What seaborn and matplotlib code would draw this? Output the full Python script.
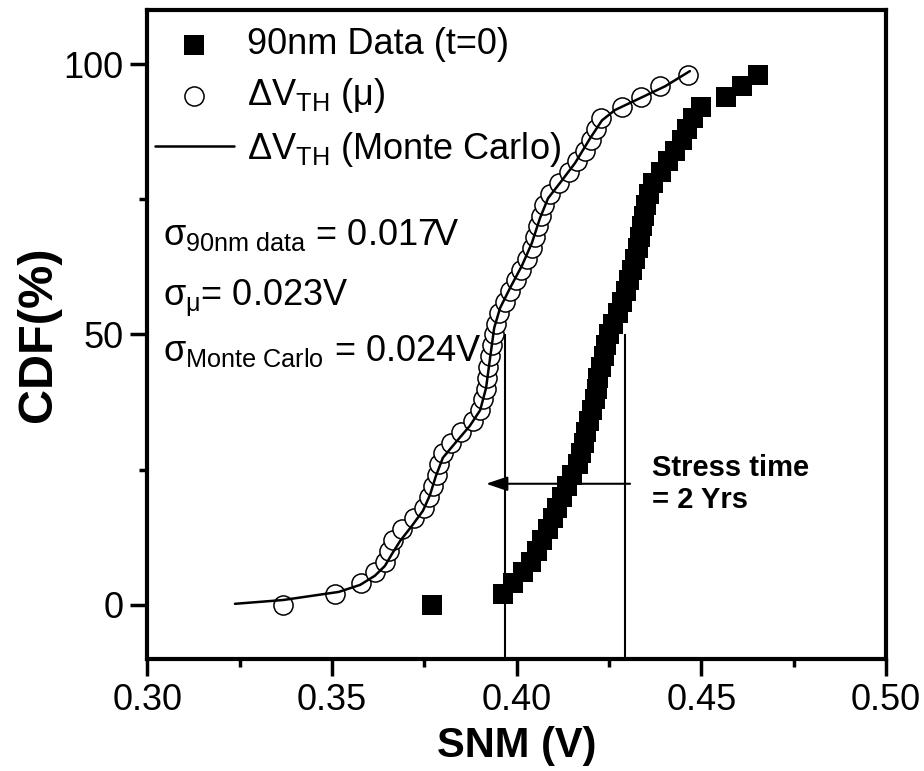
import matplotlib
matplotlib.use("Agg")
import matplotlib.pyplot as plt
from matplotlib.ticker import MultipleLocator
import seaborn as sns
import pandas as pd

# CDF levels (%) shared by both measured / modelled point sets
cdf_pts = list(range(0, 100, 2))

# 90nm data at t=0, SNM (V)
snm_90nm = [0.3771, 0.3963, 0.3990, 0.4018, 0.4040, 0.4055, 0.4068, 0.4084, 0.4097, 0.4108,
            0.4124, 0.4136, 0.4151, 0.4165, 0.4174, 0.4182, 0.4189, 0.4197, 0.4204, 0.4211,
            0.4218, 0.4221, 0.4229, 0.4236, 0.4243, 0.4250, 0.4262, 0.4275, 0.4286, 0.4295,
            0.4303, 0.4311, 0.4320, 0.4328, 0.4333, 0.4338, 0.4344, 0.4351, 0.4358, 0.4370,
            0.4390, 0.4409, 0.4429, 0.4447, 0.4462, 0.4477, 0.4500, 0.4566, 0.4610, 0.4654]

# dVth (mu) model, SNM (V)
snm_mu = [0.3367, 0.3508, 0.3578, 0.3616, 0.3643, 0.3654, 0.3665, 0.3689, 0.3722, 0.3749,
          0.3762, 0.3773, 0.3784, 0.3789, 0.3800, 0.3822, 0.3849, 0.3882, 0.3901, 0.3909,
          0.3917, 0.3919, 0.3922, 0.3927, 0.3933, 0.3938, 0.3944, 0.3952, 0.3968, 0.3982,
          0.3998, 0.4011, 0.4028, 0.4041, 0.4049, 0.4057, 0.4066, 0.4074, 0.4090, 0.4114,
          0.4141, 0.4163, 0.4185, 0.4201, 0.4215, 0.4228, 0.4285, 0.4337, 0.4388, 0.4464]

# dVth Monte Carlo curve
mc_snm = [0.3237, 0.3367, 0.3518, 0.3576, 0.3616, 0.3643, 0.3662, 0.3684, 0.3716, 0.3746,
          0.3765, 0.3781, 0.3800, 0.3833, 0.3873, 0.3901, 0.3917, 0.3928, 0.3939, 0.3955,
          0.3982, 0.4014, 0.4041, 0.4063, 0.4085, 0.4117, 0.4158, 0.4199, 0.4231, 0.4266,
          0.4334, 0.4402, 0.4469]
mc_cdf = [0.2, 0.9, 2.4, 3.7, 5.4, 7.2, 9.4, 11.8, 14.6, 17.4,
          20.3, 23.8, 27.2, 29.9, 33.1, 36.0, 40.1, 45.7, 51.2, 54.9,
          58.6, 62.7, 66.9, 71.5, 75.2, 78.0, 81.7, 86.3, 89.6, 91.5,
          93.7, 95.9, 98.7]

# median markers and stress shift arrow
median_snm = [0.3968, 0.4293]
median_cdf = 50
arrow_start, arrow_end, arrow_cdf = 0.4307, 0.3917, 22.4

sns.set_style("ticks")
plt.rcParams["font.family"] = ["Liberation Sans", "DejaVu Sans"]
plt.rcParams["mathtext.fontset"] = "custom"
plt.rcParams["mathtext.rm"] = "Liberation Sans"
plt.rcParams["mathtext.it"] = "Liberation Sans"
plt.rcParams["mathtext.bf"] = "Liberation Sans:bold"
for k in ["text.color", "axes.labelcolor", "xtick.color", "ytick.color", "axes.edgecolor"]:
    plt.rcParams[k] = "black"

fig = plt.figure(figsize=(9.24, 7.71), dpi=100)
ax = fig.add_axes([0.1596, 0.1453, 0.7992, 0.8417])

df_sq = pd.DataFrame({"snm": snm_90nm, "cdf": cdf_pts})
df_mu = pd.DataFrame({"snm": snm_mu, "cdf": cdf_pts})
df_mc = pd.DataFrame({"snm": mc_snm, "cdf": mc_cdf})

sns.scatterplot(data=df_sq, x="snm", y="cdf", marker="s", s=190, color="black",
                edgecolor="black", linewidth=0, ax=ax, label="90nm Data (t=0)", zorder=3)
sns.scatterplot(data=df_mu, x="snm", y="cdf", marker="o", s=190, color="white",
                edgecolor="black", linewidth=1.1, ax=ax,
                label=r"$\Delta$V$_{\rm TH}$ ($\mu$)", zorder=3)
sns.lineplot(data=df_mc, x="snm", y="cdf", color="black", linewidth=1.8, sort=False,
             estimator=None, ax=ax, label=r"$\Delta$V$_{\rm TH}$ (Monte Carlo)", zorder=4)

ax.vlines(median_snm, -10, median_cdf, color="black", linewidth=1.5, zorder=2)
ax.annotate("", xy=(arrow_end, arrow_cdf), xytext=(arrow_start, arrow_cdf),
            arrowprops=dict(arrowstyle="-|>,head_length=0.65,head_width=0.22",
                            color="black", lw=1.5, mutation_scale=20,
                            shrinkA=0, shrinkB=0), zorder=5)
ax.text(0.4366, arrow_cdf, "Stress time\n= 2 Yrs", fontsize=21, fontweight="bold",
        va="center", ha="left", linespacing=1.2)

ax.text(0.3042, 66.5, r"$\sigma_{\rm 90nm\ data}$ = 0.017V", fontsize=26, va="baseline")
ax.text(0.3042, 55.3, r"$\sigma_{\mu}$= 0.023V", fontsize=26, va="baseline")
ax.text(0.3042, 45.1, r"$\sigma_{\rm Monte\ Carlo}$ = 0.024V", fontsize=26, va="baseline")

ax.set_xlim(0.30, 0.50)
ax.set_ylim(-10, 110)
ax.set_xticks([0.30, 0.35, 0.40, 0.45, 0.50])
ax.set_xticklabels(["0.30", "0.35", "0.40", "0.45", "0.50"])
ax.set_yticks([0, 50, 100])
ax.xaxis.set_minor_locator(MultipleLocator(0.025))
ax.yaxis.set_minor_locator(MultipleLocator(25))
ax.tick_params(which="major", direction="out", length=12, width=2.5, labelsize=26, pad=5)
ax.tick_params(which="minor", direction="out", length=6, width=2.5)
for sp in ax.spines.values():
    sp.set_linewidth(3)
    sp.set_color("black")

ax.set_xlabel("SNM (V)", fontsize=30, fontweight="bold", labelpad=6)
ax.set_ylabel("CDF(%)", fontsize=35, fontweight="bold", labelpad=2)

ax.legend(loc="upper left", bbox_to_anchor=(0.0, 0.985), frameon=False, fontsize=26,
          handlelength=2.2, handletextpad=0.35, labelspacing=0.4, borderaxespad=0,
          borderpad=0.2)

fig.savefig("out.png", dpi=100)
